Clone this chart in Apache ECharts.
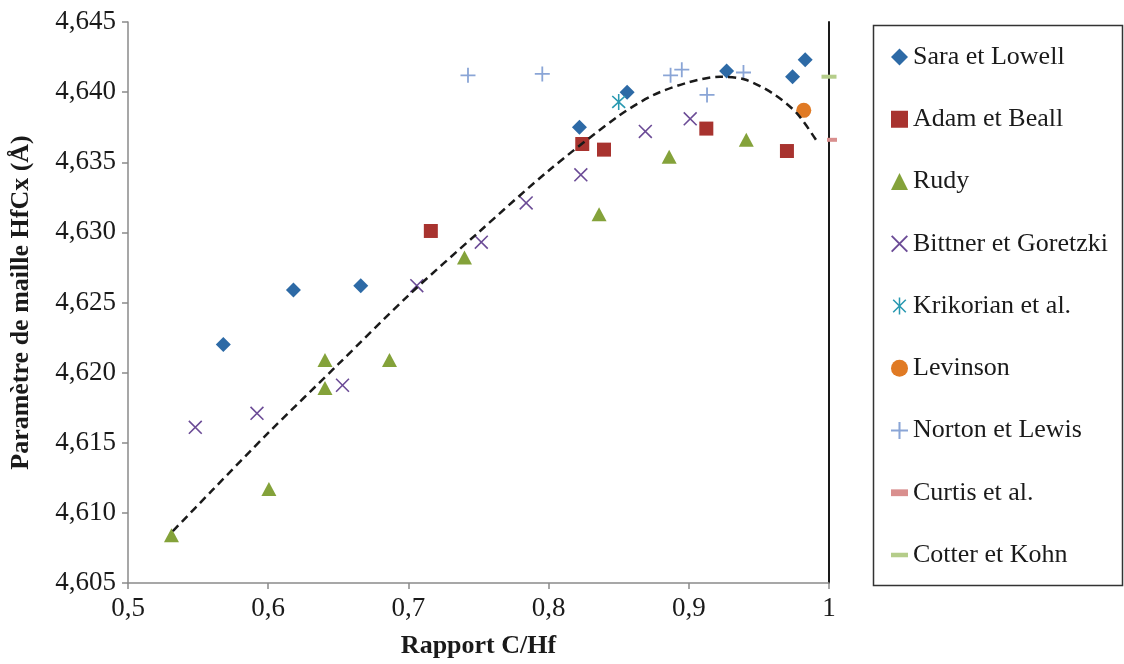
<!DOCTYPE html>
<html>
<head>
<meta charset="utf-8">
<script src="https://cdn.jsdelivr.net/npm/echarts@6/dist/echarts.min.js"></script>
<style>
html,body{margin:0;padding:0;background:#fff;}
#chart{width:1124px;height:664px;}
</style>
</head>
<body>
<div id="chart"></div>
<script>
// ---- Data ----
var seriesNames = ['Sara et Lowell','Adam et Beall','Rudy','Bittner et Goretzki','Krikorian et al.','Levinson','Norton et Lewis','Curtis et al.','Cotter et Kohn'];
var saraLowell = [[0.568,4.6220],[0.618,4.6259],[0.666,4.6262],[0.822,4.6375],[0.856,4.6400],[0.927,4.6415],[0.974,4.6411],[0.983,4.6423]];
var adamBeall = [[0.716,4.6301],[0.824,4.6363],[0.8395,4.6359],[0.9125,4.6374],[0.970,4.6358]];
var rudy = [[0.531,4.6084],[0.6005,4.6117],[0.6405,4.6209],[0.6405,4.6189],[0.6865,4.6209],[0.740,4.6282],[0.836,4.6313],[0.886,4.6354],[0.941,4.6366]];
var bittnerGoretzki = [[0.548,4.6161],[0.592,4.6171],[0.653,4.6191],[0.706,4.6262],[0.752,4.6293],[0.784,4.6321],[0.823,4.6341],[0.869,4.6372],[0.901,4.6381]];
var krikorian = [[0.850,4.6393]];
var levinson = [[0.982,4.6387]];
var nortonLewis = [[0.7425,4.6412],[0.7955,4.6413],[0.887,4.6412],[0.895,4.6416],[0.913,4.6398],[0.939,4.6414]];
var curtis = [[1.0,4.6366]];
var cotterKohn = [[1.0,4.6411]];
var trendCurve = [[0.532,4.6087],[0.560,4.6116],[0.600,4.6157],[0.650,4.6206],[0.700,4.6255],[0.750,4.6300],[0.800,4.6344],[0.850,4.6383],[0.875,4.6398],[0.900,4.6407],[0.9225,4.6411],[0.940,4.6409],[0.960,4.6399],[0.977,4.6385],[0.992,4.6364]];
var xTickLabels = {min:0.5,max:1.0,interval:0.1};
var yTickLabels = {min:4.605,max:4.645,interval:0.005};

var FONT = 'Liberation Serif';
var TXT = '#1a1a1a';
var AXIS_GRAY = '#8a8a8a';

var PLUS = 'path://M4.4,0H5.6V4.4H10V5.6H5.6V10H4.4V5.6H0V4.4H4.4Z';
var XMARK = 'path://M0,0.8L0.8,0L10,9.2L9.2,10ZM9.2,0L10,0.8L0.8,10L0,9.2Z';
var STAR = 'path://M0,0.8L0.8,0L10,9.2L9.2,10ZM9.2,0L10,0.8L0.8,10L0,9.2ZM4.45,-1.2H5.55V11.2H4.45Z';
var DASH = 'path://M0,0H15V4H0Z';

var colors = {
  sara:'#2d6aa6', adam:'#a8332f', rudy:'#84a23a', bitt:'#6b4b96',
  krik:'#2999b1', lev:'#e07a24', nort:'#8aa5d6', curt:'#d98f8e', cott:'#b5cd8a'
};

var chart = echarts.init(document.getElementById('chart'), null, {renderer:'canvas'});

function fmtY(v){ return v.toFixed(3).replace('.', ','); }
function fmtX(v){ if (Math.abs(v-1)<1e-9) return '1'; return v.toFixed(1).replace('.', ','); }

function sc(name, data, symbol, size, color, extra){
  var s = {name:name, type:'scatter', data:data, symbol:symbol, symbolSize:size, clip:false,
    itemStyle:{color:color, opacity:1}, emphasis:{disabled:true}};
  if (extra) for (var k in extra) s[k] = extra[k];
  return s;
}

var option = {
  animation:false,
  backgroundColor:'#fff',
  grid:{left:125, right:295, top:22, bottom:81},
  xAxis:{
    type:'value', min:xTickLabels.min, max:xTickLabels.max, interval:xTickLabels.interval,
    name:'Rapport C/Hf', nameLocation:'middle', nameGap:50,
    nameTextStyle:{fontFamily:FONT, fontSize:26, fontWeight:'bold', color:TXT},
    axisLine:{show:true, onZero:false, lineStyle:{color:AXIS_GRAY, width:1.5}},
    axisTick:{show:true, inside:false, length:6, lineStyle:{color:AXIS_GRAY, width:1.5}},
    axisLabel:{fontFamily:FONT, fontSize:27, color:TXT, margin:12, formatter:fmtX},
    splitLine:{show:false}
  },
  yAxis:[{
    type:'value', min:yTickLabels.min, max:yTickLabels.max, interval:yTickLabels.interval,
    name:'Paramètre de maille HfCx (Å)', nameLocation:'middle', nameGap:94, nameRotate:90,
    nameTextStyle:{fontFamily:FONT, fontSize:26, fontWeight:'bold', color:TXT},
    axisLine:{show:true, onZero:false, lineStyle:{color:AXIS_GRAY, width:1.5}},
    axisTick:{show:true, inside:false, length:6, lineStyle:{color:AXIS_GRAY, width:1.5}},
    axisLabel:{fontFamily:FONT, fontSize:27, color:TXT, margin:12, formatter:fmtY},
    splitLine:{show:false}
  },{
    type:'value', min:yTickLabels.min, max:yTickLabels.max, interval:yTickLabels.interval,
    position:'right',
    axisLine:{show:true, onZero:false, lineStyle:{color:'#1a1a1a', width:2}},
    axisTick:{show:false}, axisLabel:{show:false}, splitLine:{show:false}
  }],
  legend:{
    orient:'vertical', left:886, top:37, itemWidth:17, itemHeight:17, itemGap:32.25,
    textStyle:{fontFamily:FONT, fontSize:26, color:TXT, lineHeight:30},
    selectedMode:false,
    data:[
      {name:seriesNames[0], icon:'diamond'},
      {name:seriesNames[1], icon:'rect'},
      {name:seriesNames[2], icon:'triangle'},
      {name:seriesNames[3], icon:XMARK},
      {name:seriesNames[4], icon:STAR},
      {name:seriesNames[5], icon:'circle'},
      {name:seriesNames[6], icon:PLUS},
      {name:seriesNames[7], icon:'path://M5,0H15V4H5Z'},
      {name:seriesNames[8], icon:DASH}
    ]
  },
  graphic:[{
    type:'rect', left:871, top:23, z:-1,
    shape:{width:249, height:560},
    style:{fill:'none', stroke:'#333', lineWidth:1.5}
  }],
  series:[
    sc(seriesNames[0], saraLowell, 'diamond', 15, colors.sara),
    sc(seriesNames[1], adamBeall, 'rect', 14, colors.adam),
    sc(seriesNames[2], rudy, 'triangle', [15,14], colors.rudy),
    sc(seriesNames[3], bittnerGoretzki, XMARK, 14, colors.bitt),
    sc(seriesNames[4], krikorian, STAR, [14,16], colors.krik),
    sc(seriesNames[5], levinson, 'circle', 15, colors.lev),
    sc(seriesNames[6], nortonLewis, PLUS, 15, colors.nort),
    sc(seriesNames[7], curtis, DASH, [10,4], colors.curt, {symbolOffset:[3,0], z:1}),
    sc(seriesNames[8], cotterKohn, DASH, [15,4], colors.cott, {z:3}),
    {name:'trend', type:'line', data:trendCurve, smooth:0.3, showSymbol:false, symbol:'none', z:4, clip:false,
      emphasis:{disabled:true},
      lineStyle:{color:'#1a1a1a', width:2.5, type:[8,5]}}
  ]
};
chart.setOption(option);
</script>
</body>
</html>
